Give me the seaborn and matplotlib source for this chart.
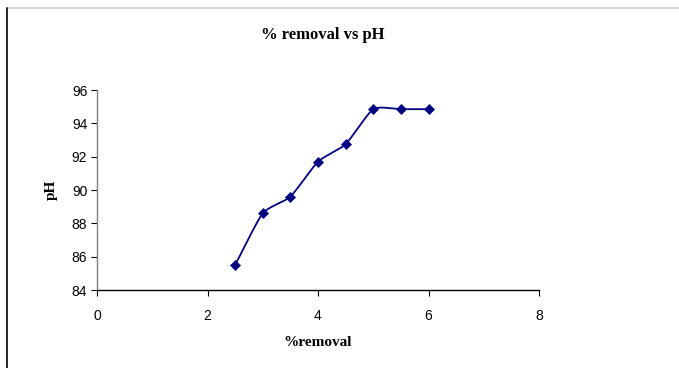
import numpy as np
import pandas as pd
import matplotlib
matplotlib.use("Agg")
import matplotlib.pyplot as plt
import seaborn as sns
from matplotlib.lines import Line2D

removal = [2.5, 3.0, 3.5, 4.0, 4.5, 5.0, 5.5, 6.0]
ph = [85.5, 88.6, 89.6, 91.7, 92.75, 94.85, 94.85, 94.85]
xticks = [0, 2, 4, 6, 8]
yticks = [84, 86, 88, 90, 92, 94, 96]

sns.set_theme(style="white")
plt.rcParams['font.family'] = ['Liberation Sans', 'DejaVu Sans']
plt.rcParams['text.color'] = 'black'
plt.rcParams['axes.labelcolor'] = 'black'

fig = plt.figure(figsize=(6.79, 3.68), dpi=100)
ax = fig.add_axes([97/679, 1-290/368, (539-97)/679, 200/368])

# smoothed curve (cardinal spline through the data points)
def smooth(xs, ys, n=20, k=0.6):
    xs = np.asarray(xs, float); ys = np.asarray(ys, float)
    px = np.concatenate([[2*xs[0]-xs[1]], xs, [2*xs[-1]-xs[-2]]])
    py = np.concatenate([[2*ys[0]-ys[1]], ys, [2*ys[-1]-ys[-2]]])
    t = np.linspace(0, 1, n)
    h00 = 2*t**3 - 3*t**2 + 1
    h10 = t**3 - 2*t**2 + t
    h01 = -2*t**3 + 3*t**2
    h11 = t**3 - t**2
    ox, oy = [], []
    for i in range(1, len(px)-2):
        for arr, out in ((px, ox), (py, oy)):
            p0, p1, p2, p3 = arr[i-1], arr[i], arr[i+1], arr[i+2]
            m1 = k*0.5*(p2-p0)
            m2 = k*0.5*(p3-p1)
            out.extend(h00*p1 + h10*m1 + h01*p2 + h11*m2)
    return np.array(ox), np.array(oy)

sx, sy = smooth(removal, ph)
df = pd.DataFrame({"%removal": removal, "pH": ph})
col = "#000080"
ax.plot(sx, sy, color=col, lw=1.3)
sns.scatterplot(data=df, x="%removal", y="pH", ax=ax, marker="D", s=26,
                color=col, edgecolor=col, linewidth=0.5, zorder=3)

ax.set_xlim(0, 8)
ax.set_ylim(84, 96)
ax.set_xticks(xticks)
ax.set_yticks(yticks)
ax.tick_params(axis="both", labelsize=10, colors="black", length=4, width=0.8,
               direction="out", bottom=True, left=True, pad=10)
ax.tick_params(axis="y", pad=3)
for s in ["top", "right"]:
    ax.spines[s].set_visible(False)
ax.spines["left"].set_color("#808080")
ax.spines["left"].set_linewidth(1.0)
ax.spines["bottom"].set_color("black")
ax.spines["bottom"].set_linewidth(1.0)

ax.set_xlabel("%removal", family=["Liberation Serif", "DejaVu Serif"], fontweight="bold",
              fontsize=11, labelpad=9, color="black")
ax.set_ylabel("pH", family=["Liberation Serif", "DejaVu Serif"], fontweight="bold",
              fontsize=11, labelpad=10, color="black")
fig.text(323/679, 1-35/368, "% removal vs pH", ha="center", va="center",
         family=["Liberation Serif", "DejaVu Serif"], fontweight="bold", fontsize=12,
         color="black")

# outer frame lines
fig.add_artist(Line2D([7/679, 1], [1-8/368]*2, color="#cccccc", lw=1.2, transform=fig.transFigure))
fig.add_artist(Line2D([7/679]*2, [0, 1-8/368], color="black", lw=1.2, transform=fig.transFigure))

fig.savefig("out.png", dpi=100)
